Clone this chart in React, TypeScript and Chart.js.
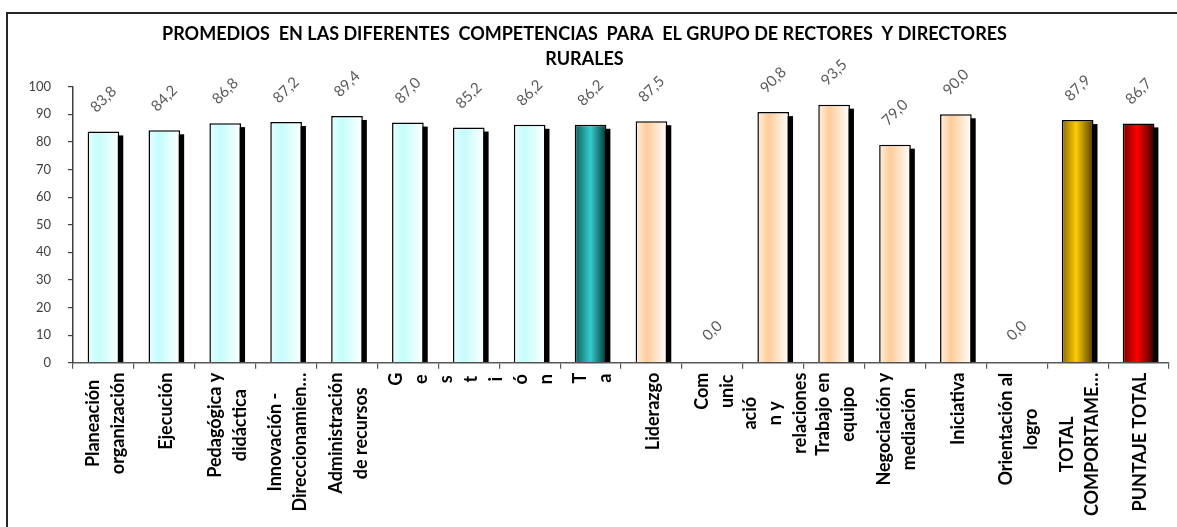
import React, { useEffect, useRef } from 'react';
import { Chart, registerables } from 'chart.js';

Chart.register(...registerables);

// ---------- data ----------
const titleLines = [
  'PROMEDIOS  EN LAS DIFERENTES  COMPETENCIAS  PARA  EL GRUPO DE RECTORES  Y DIRECTORES',
  'RURALES',
];

const tickLabels: string[][] = [
  ['Planeación', 'organización'],
  ['Ejecución'],
  ['Pedagógica y', 'didáctica'],
  ['Innovación -', 'Direccionamien…'],
  ['Administración', 'de recursos'],
  [],
  ['G', 'e', 's', 't', 'i', 'ó', 'n'],
  [],
  ['T', 'a'],
  ['Liderazgo'],
  ['Com', 'unic'],
  ['ació', 'n y', 'relaciones'],
  ['Trabajo en', 'equipo'],
  ['Negociación y', 'mediación'],
  ['Iniciativa'],
  ['Orientación al', 'logro'],
  ['TOTAL', 'COMPORTAME…'],
  ['PUNTAJE TOTAL'],
];

const values = [83.8, 84.2, 86.8, 87.2, 89.4, 87.0, 85.2, 86.2, 86.2, 87.5, 0.0, 90.8, 93.5, 79.0, 90.0, 0.0, 87.9, 86.7];

const yMin = 0;
const yMax = 100;
const yStep = 10;

// colour group of each bar
const barGroups = [
  'cyan', 'cyan', 'cyan', 'cyan', 'cyan', 'cyan', 'cyan', 'cyan',
  'teal',
  'peach', 'peach', 'peach', 'peach', 'peach', 'peach', 'peach',
  'gold', 'red',
];

// ---------- styles ----------
const palette: Record<string, [number, string][]> = {
  cyan: [[0, '#e2ffff'], [0.35, '#c6fcfc'], [1, '#ffffff']],
  peach: [[0, '#fff0e0'], [0.35, '#ffcc99'], [1, '#ffffff']],
  teal: [[0, '#0f5e5e'], [0.5, '#33cccc'], [1, '#073636']],
  gold: [[0, '#8a6a00'], [0.45, '#ffcc00'], [1, '#4f3d00']],
  red: [[0, '#7a0000'], [0.45, '#ff0000'], [1, '#3d0000']],
};

const FONT = "Lato, 'Open Sans', 'DejaVu Sans', sans-serif";
const BAR_PCT = 0.52;
const LABEL_LH = 25;

const fmt = (v: number) => v.toFixed(1).replace('.', ',');

const decorPlugin = {
  id: 'decor',
  beforeDraw(chart: any) {
    const ctx = chart.ctx;
    ctx.save();
    ctx.fillStyle = '#ffffff';
    ctx.fillRect(0, 0, chart.width, chart.height);
    ctx.strokeStyle = '#262626';
    ctx.lineWidth = 2;
    ctx.beginPath();
    ctx.moveTo(7, chart.height);
    ctx.lineTo(7, 13);
    ctx.lineTo(chart.width, 13);
    ctx.stroke();
    ctx.restore();
  },
  beforeDatasetsDraw(chart: any) {
    // drop shadow of each bar, offset to the lower right
    const ctx = chart.ctx;
    const area = chart.chartArea;
    const meta = chart.getDatasetMeta(0);
    ctx.save();
    ctx.beginPath();
    ctx.rect(area.left, area.top, area.right - area.left, area.bottom - area.top);
    ctx.clip();
    ctx.fillStyle = '#000000';
    meta.data.forEach((bar: any) => {
      const { x, y, base, width } = bar.getProps(['x', 'y', 'base', 'width'], true);
      const h = base - y;
      if (h <= 0) return;
      ctx.fillRect(x - width / 2 + 4, y + 4, width, h - 4);
    });
    ctx.restore();
  },
  afterDatasetsDraw(chart: any) {
    const ctx = chart.ctx;

    // value labels
    const meta = chart.getDatasetMeta(0);
    ctx.save();
    ctx.fillStyle = '#595959';
    ctx.font = `15px ${FONT}`;
    ctx.textAlign = 'center';
    ctx.textBaseline = 'middle';
    meta.data.forEach((bar: any, i: number) => {
      ctx.save();
      ctx.translate(bar.x, bar.y - 32);
      ctx.rotate(-Math.PI / 4);
      ctx.fillText(fmt(values[i]), 0, 0);
      ctx.restore();
    });
    ctx.restore();

    // category labels (rotated, wrapped)
    const xs = chart.scales.x;
    const top = chart.chartArea.bottom + 10;
    ctx.save();
    ctx.fillStyle = '#000000';
    ctx.font = `bold 18px ${FONT}`;
    ctx.textAlign = 'center';
    ctx.textBaseline = 'middle';
    tickLabels.forEach((lines, i) => {
      if (!lines.length) return;
      const cx = xs.getPixelForValue(i) + 2;
      const maxW = Math.max(...lines.map((l) => ctx.measureText(l).width));
      const x0 = cx - ((lines.length - 1) / 2) * LABEL_LH;
      lines.forEach((line, j) => {
        ctx.save();
        ctx.translate(x0 + j * LABEL_LH, top + maxW / 2);
        ctx.rotate(-Math.PI / 2);
        ctx.fillText(line, 0, 0);
        ctx.restore();
      });
    });
    ctx.restore();
  },
};

export default function App() {
  const ref = useRef<HTMLCanvasElement>(null);

  useEffect(() => {
    let chart: Chart | null = null;
    let cancelled = false;
    const make = () => {
      if (cancelled || !ref.current) return;
      chart = new Chart(ref.current, {
        type: 'bar',
        data: {
          labels: tickLabels.map((l) => l.join(' ')),
          datasets: [
            {
              data: values,
              backgroundColor: (c: any) => {
                const stops = palette[barGroups[c.dataIndex]] || palette.cyan;
                const ch = c.chart;
                const xs = ch.scales && ch.scales.x;
                if (c.dataIndex === undefined || !xs || !ch.chartArea) return stops[1][1];
                const cx = xs.getPixelForValue(c.dataIndex);
                const half = ((xs.width / values.length) * BAR_PCT) / 2;
                const g = ch.ctx.createLinearGradient(cx - half, 0, cx + half, 0);
                stops.forEach(([o, col]) => g.addColorStop(o, col));
                return g;
              },
              borderColor: '#000000',
              borderWidth: 1.5,
              barPercentage: BAR_PCT,
              categoryPercentage: 1,
            },
          ],
        },
        plugins: [decorPlugin],
        options: {
          responsive: false,
          devicePixelRatio: 1,
          animation: false,
          layout: { padding: { left: 0, right: 8, top: 0, bottom: 0 } },
          plugins: {
            legend: { display: false },
            tooltip: { enabled: false },
            title: {
              display: true,
              text: titleLines,
              color: '#000000',
              font: { family: FONT, size: 18, weight: 'bold', lineHeight: '25px' },
              padding: { top: 21.5, bottom: 15.2 },
            },
          },
          scales: {
            x: {
              offset: true,
              grid: {
                display: true,
                offset: true,
                drawOnChartArea: false,
                drawTicks: true,
                tickLength: 6,
                color: '#595959',
                lineWidth: 1.2,
              },
              border: { display: true, color: '#595959', width: 1.5 },
              ticks: { display: false },
              afterFit: (s: any) => {
                s.height = 527 - 362.7;
              },
            },
            y: {
              min: yMin,
              max: yMax,
              ticks: {
                stepSize: yStep,
                color: '#404040',
                padding: 17,
                font: { family: FONT, size: 13 },
              },
              grid: {
                display: true,
                drawOnChartArea: false,
                drawTicks: true,
                tickLength: 5,
                color: '#404040',
                lineWidth: 1.2,
              },
              border: { display: true, color: '#404040', width: 1.5 },
              afterFit: (s: any) => {
                s.width = 73;
              },
            },
          },
        },
      } as any);
    };
    const fontsReady = (document as any).fonts
      ? Promise.all([
          (document as any).fonts.load(`bold 18px Lato`),
          (document as any).fonts.load(`15px Lato`),
        ]).catch(() => null)
      : Promise.resolve(null);
    fontsReady.then(make);
    return () => {
      cancelled = true;
      if (chart) chart.destroy();
    };
  }, []);

  return (
    <div style={{ position: 'absolute', left: 0, top: 0, width: 1177, height: 527 }}>
      <canvas ref={ref} width={1177} height={527} style={{ display: 'block' }} />
    </div>
  );
}
